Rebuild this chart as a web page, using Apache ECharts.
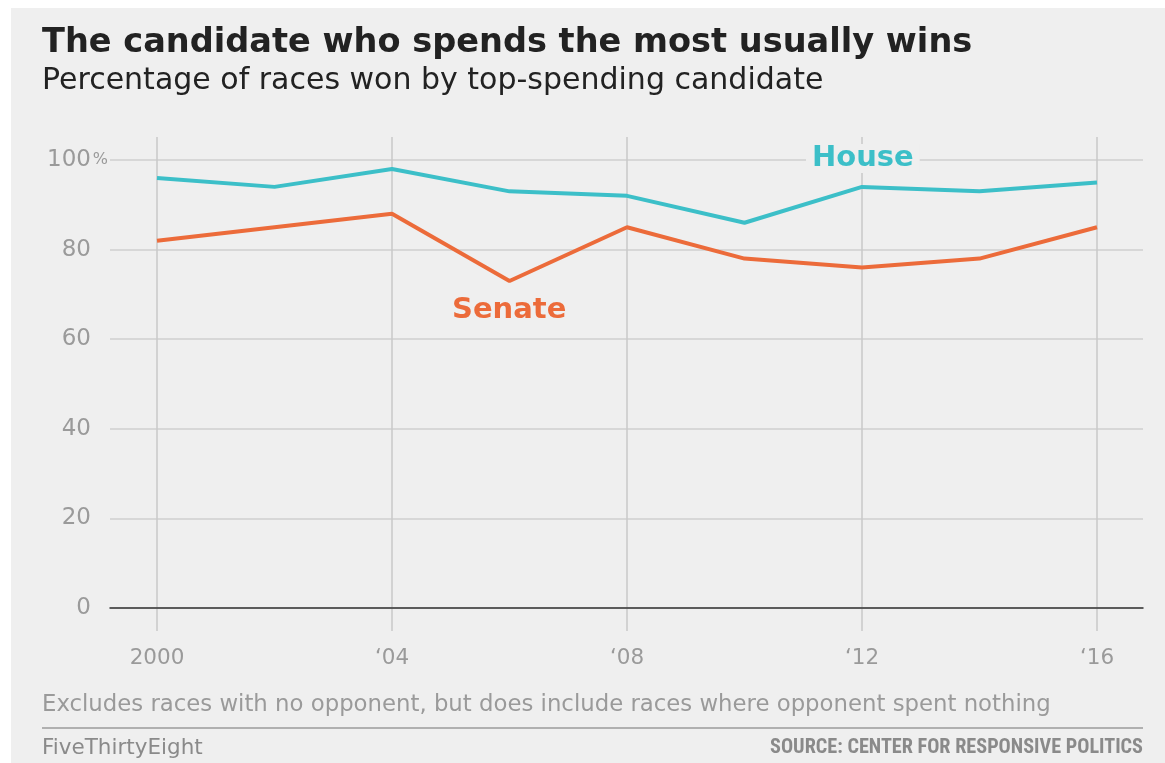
<!DOCTYPE html>
<html>
<head>
<meta charset="utf-8">
<script src="https://cdn.jsdelivr.net/npm/echarts@6/dist/echarts.min.js"></script>
<style>
html,body{margin:0;padding:0;background:#fff;width:1165px;height:763px;overflow:hidden;}
#bg{position:absolute;left:11px;top:8px;width:1154px;height:755px;background:#efefef;}
#c{position:absolute;left:0;top:0;width:1165px;height:763px;}
</style>
</head>
<body>
<div id="bg"></div>
<div id="c"></div>
<script>
const years = [2000, 2002, 2004, 2006, 2008, 2010, 2012, 2014, 2016];
const house = [96, 94, 98, 93, 92, 86, 94, 93, 95];
const senate = [82, 85, 88, 73, 85, 78, 76, 78, 85];
const xTickLabels = {2000: '2000', 2004: '\u201804', 2008: '\u201808', 2012: '\u201812', 2016: '\u201816'};
const yTicks = [0, 20, 40, 60, 80, 100];

const FONT = '"DejaVu Sans", Verdana, sans-serif';
const chart = echarts.init(document.getElementById('c'), null, {renderer: 'canvas'});

// pixel geometry of the plot
const dataLeft = 157, dataRight = 1097, dataTop = 160, dataBottom = 608;
const pxPerYear = (dataRight - dataLeft) / 16;
const gridL = 110, gridR = 1143;
const xMinExt = 2000 - (dataLeft - gridL) / pxPerYear;
const xMaxExt = 2016 + (gridR - dataRight) / pxPerYear;

const option = {
  backgroundColor: 'transparent',
  animation: false,
  title: [
    {text: 'The candidate who spends the most usually wins', left: 42, top: 26, padding: 0,
     textStyle: {fontFamily: FONT, fontWeight: 'bold', fontSize: 33.6, color: '#222'}},
    {text: 'Percentage of races won by top-spending candidate', left: 42, top: 66, padding: 0,
     textStyle: {fontFamily: FONT, fontWeight: 'normal', fontSize: 30, color: '#222'}},
    {text: 'House', left: 806, top: 144, backgroundColor: '#efefef', padding: [0, 6],
     textStyle: {fontFamily: FONT, fontWeight: 'bold', fontSize: 29, color: '#3cbfc8'}},
    {text: 'Senate', left: 452, top: 296, padding: 0,
     textStyle: {fontFamily: FONT, fontWeight: 'bold', fontSize: 29, color: '#ec6b3a'}},
    {text: 'Excludes races with no opponent, but does include races where opponent spent nothing', left: 42, top: 694, padding: 0,
     textStyle: {fontFamily: FONT, fontWeight: 'normal', fontSize: 22.8, color: '#9a9a9a'}},
    {text: 'FiveThirtyEight', left: 42, top: 737, padding: 0,
     textStyle: {fontFamily: FONT, fontWeight: 'normal', fontSize: 21.5, color: '#8a8a8a'}},
    {text: 'SOURCE: CENTER FOR RESPONSIVE POLITICS', right: 22, top: 738, padding: 0,
     textStyle: {fontFamily: '"Liberation Sans Narrow", "Roboto Condensed", Roboto, sans-serif', fontWeight: 'bold', fontSize: 20.2, color: '#8a8a8a'}}
  ],
  graphic: [
    {type: 'line', shape: {x1: 42, y1: 728, x2: 1143, y2: 728}, style: {stroke: '#b0b0b0', lineWidth: 2}}
  ],
  grid: [
    {left: dataLeft, right: 1165 - dataRight, top: dataTop, bottom: 763 - dataBottom},
    {left: gridL, right: 1165 - gridR, top: dataTop, bottom: 763 - dataBottom},
    {left: dataLeft, right: 1165 - dataRight, top: 137, bottom: 763 - 631}
  ],
  xAxis: [
    {gridIndex: 0, type: 'value', min: 2000, max: 2016, interval: 4,
     axisLine: {show: false}, axisTick: {show: false}, splitLine: {show: false},
     axisLabel: {margin: 39, fontFamily: FONT, fontSize: 21.5, color: '#9a9a9a',
       formatter: v => xTickLabels[v] || ''}},
    {gridIndex: 1, type: 'value', min: xMinExt, max: xMaxExt,
     axisLine: {show: true, onZero: true, lineStyle: {color: '#333', width: 1.5}},
     axisTick: {show: false}, axisLabel: {show: false}, splitLine: {show: false}},
    {gridIndex: 2, type: 'value', min: 2000, max: 2016, interval: 4,
     axisLine: {show: false}, axisTick: {show: false}, axisLabel: {show: false},
     splitLine: {show: true, lineStyle: {color: '#c8c8c8', width: 1.5}}}
  ],
  yAxis: [
    {gridIndex: 0, type: 'value', min: 0, max: 100, interval: 20,
     axisLine: {show: false}, axisTick: {show: false}, splitLine: {show: false}, axisLabel: {show: false}},
    {gridIndex: 1, type: 'value', min: 0, max: 100, interval: 20,
     axisLine: {show: false}, axisTick: {show: false},
     splitLine: {show: true, lineStyle: {color: '#cfcfcf', width: 1.5}},
     axisLabel: {margin: 2, align: 'right',
       formatter: v => (yTicks.indexOf(v) >= 0 ? (v === 100 ? '{n|100}{p|%}' : '{n|' + v + '}{s| }') : ''),
       rich: {
         n: {fontFamily: FONT, fontSize: 23, color: '#9a9a9a'},
         p: {fontFamily: FONT, fontSize: 16, color: '#9a9a9a', width: 17, verticalAlign: 'middle'},
         s: {fontSize: 16, width: 17}
       }}},
    {gridIndex: 2, type: 'value', min: 0, max: 1,
     axisLine: {show: false}, axisTick: {show: false}, splitLine: {show: false}, axisLabel: {show: false}}
  ],
  series: [
    {name: 'House', type: 'line', xAxisIndex: 0, yAxisIndex: 0,
     data: years.map((y, i) => [y, house[i]]), showSymbol: false, symbol: 'none',
     lineStyle: {color: '#3cbfc8', width: 4}, z: 5},
    {name: 'Senate', type: 'line', xAxisIndex: 0, yAxisIndex: 0,
     data: years.map((y, i) => [y, senate[i]]), showSymbol: false, symbol: 'none',
     lineStyle: {color: '#ec6b3a', width: 4}, z: 5}
  ]
};
chart.setOption(option);
</script>
</body>
</html>
